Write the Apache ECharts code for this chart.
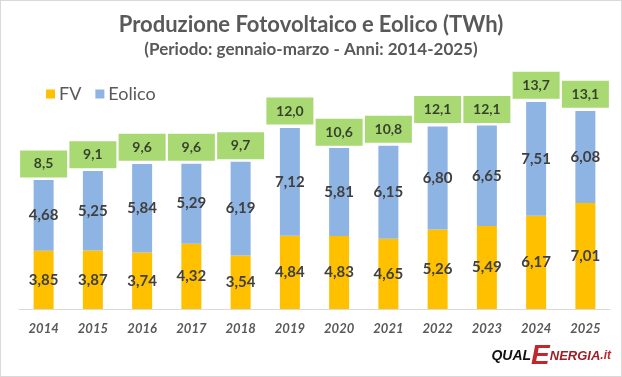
<!DOCTYPE html>
<html>
<head>
<meta charset="utf-8">
<script src="https://cdn.jsdelivr.net/npm/echarts@6/dist/echarts.min.js"></script>
<style>
  html, body { margin: 0; padding: 0; background: #fff; }
  #chart { width: 620px; height: 375px; border: 1px solid #d9d9d9; }
</style>
</head>
<body>
<div id="chart"></div>
<script>
const years = ['2014', '2015', '2016', '2017', '2018', '2019', '2020', '2021', '2022', '2023', '2024', '2025']
const fv = [3.85, 3.87, 3.74, 4.32, 3.54, 4.84, 4.83, 4.65, 5.26, 5.49, 6.17, 7.01]
const eolico = [4.68, 5.25, 5.84, 5.29, 6.19, 7.12, 5.81, 6.15, 6.80, 6.65, 7.51, 6.08]
const totals = [8.5, 9.1, 9.6, 9.6, 9.7, 12.0, 10.6, 10.8, 12.1, 12.1, 13.7, 13.1]

const font = 'Lato, "Open Sans", sans-serif'
const grey = '#595959'
const comma = (v, d) => v.toFixed(d).replace('.', ',')

const chart = echarts.init(document.getElementById('chart'))
chart.setOption({
  animation: false,
  title: {
    text: '{b|Produzione Fotovoltaico} {n|e} {b|Eolico (TWh)}',
    subtext: '(Periodo: gennaio-marzo - Anni: 2014-2025)',
    left: 'center',
    top: 8,
    itemGap: 5,
    textStyle: {
      rich: {
        b: {fontFamily: font, fontSize: 22, fontWeight: 'bold', color: grey},
        n: {fontFamily: font, fontSize: 22, color: grey}
      }
    },
    subtextStyle: {fontFamily: font, fontSize: 17, fontWeight: 'bold', color: grey}
  },
  legend: {
    left: 40,
    top: 79,
    itemWidth: 9,
    itemHeight: 9,
    itemGap: 14,
    icon: 'rect',
    data: ['FV', 'Eolico'],
    textStyle: {fontFamily: font, fontSize: 18, color: grey, padding: [0, 0, 0, -1]}
  },
  grid: {left: 18, right: 11, top: 66, bottom: 67},
  xAxis: {
    type: 'category',
    data: years,
    axisLine: {lineStyle: {color: '#d9d9d9', width: 1}},
    axisTick: {show: false},
    axisLabel: {
      margin: 13,
      fontFamily: font, fontSize: 13, fontStyle: 'italic', fontWeight: 'bold', color: grey
    }
  },
  yAxis: {
    type: 'value',
    min: 0,
    max: 16,
    show: false,
    splitLine: {show: false}
  },
  series: [
    {
      name: 'FV',
      type: 'bar',
      stack: 'tot',
      barWidth: 20,
      data: fv,
      itemStyle: {color: '#FFC000'},
      label: {
        show: true, position: 'inside',
        formatter: p => comma(p.value, 2),
        fontFamily: font, fontSize: 15, fontWeight: 'bold', color: '#404040'
      }
    },
    {
      name: 'Eolico',
      type: 'bar',
      stack: 'tot',
      barWidth: 20,
      data: eolico,
      itemStyle: {color: '#8EB4E3'},
      label: {
        show: true, position: 'inside',
        formatter: p => comma(p.value, 2),
        fontFamily: font, fontSize: 15, fontWeight: 'bold', color: '#404040'
      }
    },
    {
      name: 'Totale',
      type: 'scatter',
      symbolSize: 0,
      data: totals,
      z: 5,
      label: {
        show: true,
        position: 'top',
        distance: 3,
        formatter: p => comma(p.value, 1),
        backgroundColor: '#92D050',
        width: 47,
        height: 17,
        lineHeight: 17,
        padding: [5, 0],
        align: 'center',
        fontFamily: font, fontSize: 14, fontWeight: 'bold', color: '#1a1a1a'
      }
    }
  ],
  graphic: [
    {
      type: 'text',
      right: 10,
      bottom: 6,
      style: {
        text: '{q|QUAL}{e|E}{n|NERGIA}{i|.it}',
        rich: {
          q: {fontFamily: '"Liberation Sans", sans-serif', fontSize: 14, fontWeight: 'bold', fontStyle: 'italic', fill: '#111'},
          e: {fontFamily: '"Liberation Sans", sans-serif', fontSize: 28, fontWeight: 'bold', fontStyle: 'italic', fill: '#c0282d'},
          n: {fontFamily: '"Liberation Sans", sans-serif', fontSize: 13, fontWeight: 'bold', fontStyle: 'italic', fill: '#9e1f25'},
          i: {fontFamily: '"Liberation Sans", sans-serif', fontSize: 12, fontWeight: 'bold', fontStyle: 'italic', fill: '#c0282d'}
        }
      }
    }
  ]
})
</script>
</body>
</html>
